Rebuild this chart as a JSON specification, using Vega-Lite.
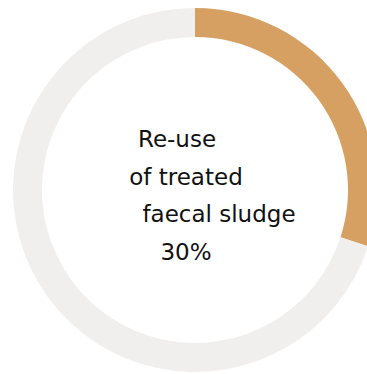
{
  "$schema": "https://vega.github.io/schema/vega-lite/v6.json",
  "width": 346,
  "height": 368,
  "autosize": {"type": "none"},
  "padding": {"left": 22, "top": 6, "right": 0, "bottom": 0},
  "background": "white",
  "view": {"stroke": null},
  "layer": [
    {
      "data": {"values": [
        {"category": "Re-use of treated faecal sludge", "value": 30, "order": 1},
        {"category": "Other", "value": 70, "order": 2}
      ]},
      "mark": {"type": "arc", "outerRadius": 182, "innerRadius": 153},
      "encoding": {
        "theta": {"field": "value", "type": "quantitative", "stack": true},
        "order": {"field": "order", "type": "quantitative"},
        "color": {
          "field": "category", "type": "nominal",
          "scale": {"domain": ["Re-use of treated faecal sludge", "Other"], "range": ["#D6A062", "#F0EFED"]},
          "legend": null
        }
      }
    },
    {
      "data": {"values": [{"label": "Re-use"}]},
      "mark": {"type": "text", "align": "center", "baseline": "alphabetic", "dx": -18, "dy": -43, "fontSize": 23, "font": "DejaVu Sans", "color": "#111111"},
      "encoding": {"text": {"field": "label"}}
    },
    {
      "data": {"values": [{"label": "of treated"}]},
      "mark": {"type": "text", "align": "center", "baseline": "alphabetic", "dx": -9, "dy": -5, "fontSize": 23, "font": "DejaVu Sans", "color": "#111111"},
      "encoding": {"text": {"field": "label"}}
    },
    {
      "data": {"values": [{"label": "faecal sludge"}]},
      "mark": {"type": "text", "align": "center", "baseline": "alphabetic", "dx": 24, "dy": 32, "fontSize": 23, "font": "DejaVu Sans", "color": "#111111"},
      "encoding": {"text": {"field": "label"}}
    },
    {
      "data": {"values": [{"label": "30%"}]},
      "mark": {"type": "text", "align": "center", "baseline": "alphabetic", "dx": -9, "dy": 70, "fontSize": 23, "font": "DejaVu Sans", "color": "#111111"},
      "encoding": {"text": {"field": "label"}}
    }
  ]
}
